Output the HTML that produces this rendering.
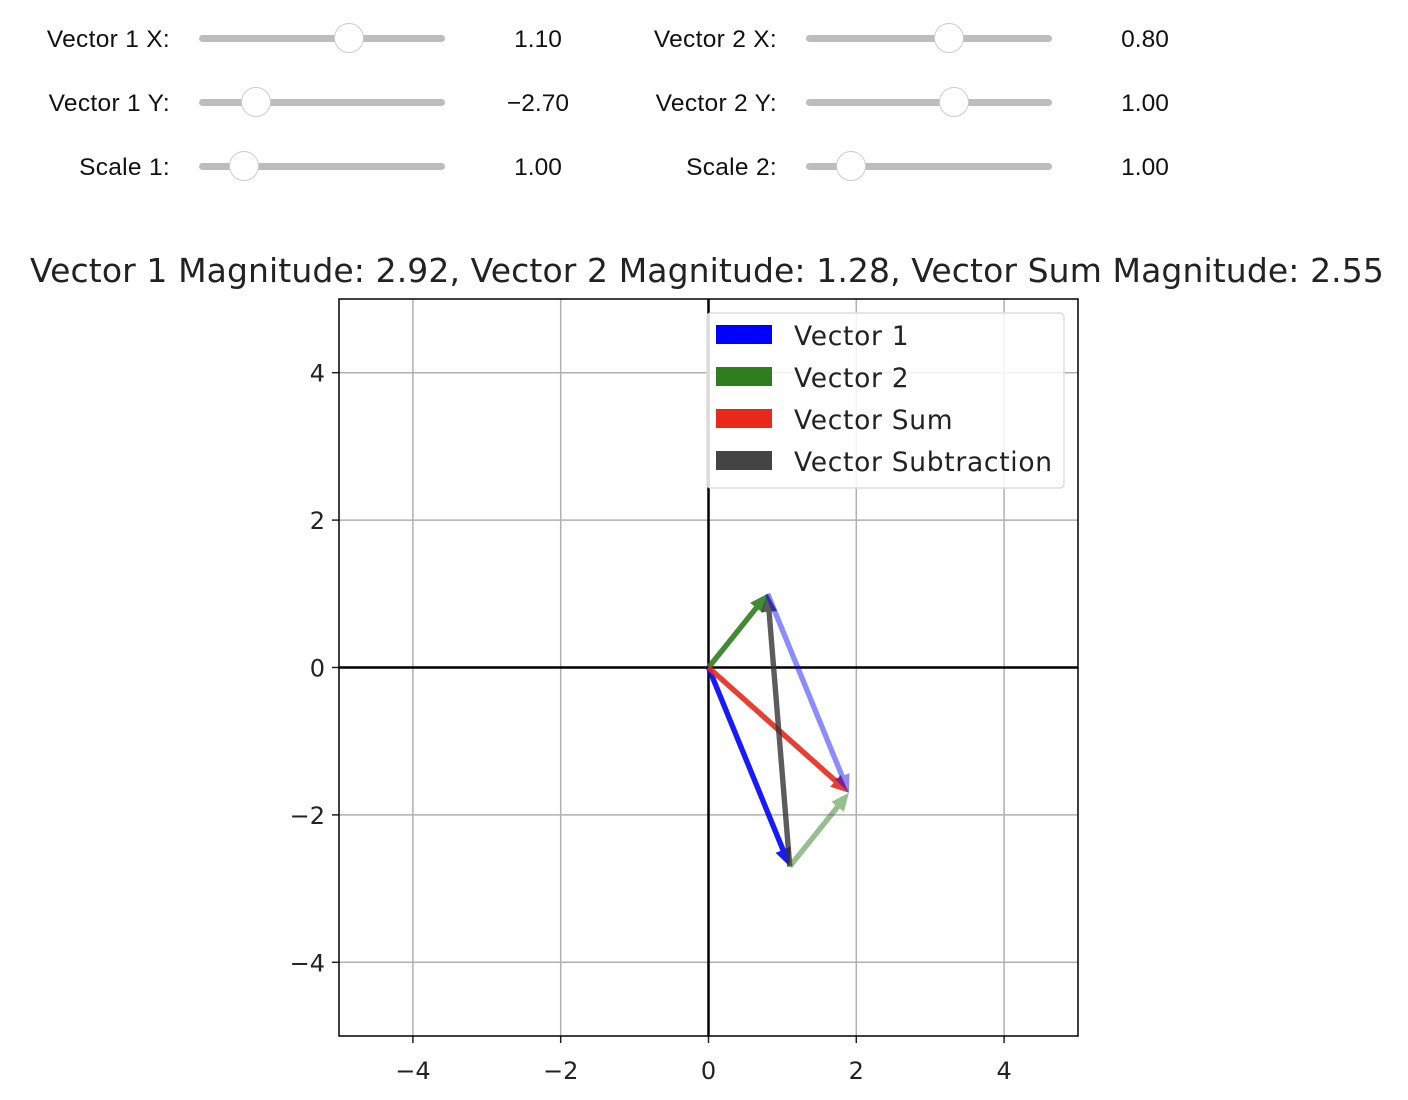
<!DOCTYPE html>
<html><head><meta charset="utf-8"><style>
body{margin:0;width:1408px;height:1100px;background:#fff;font-family:"Liberation Sans","DejaVu Sans",sans-serif;overflow:hidden;position:relative}
.lbl{position:absolute;font-size:24.5px;color:#111;text-align:right;width:170px;letter-spacing:0.3px}
.val{position:absolute;font-size:24.5px;color:#111;width:120px;text-align:center}
.track{position:absolute;height:7px;background:#bdbdbd;border-radius:4px;width:246px}
.knob{position:absolute;width:30px;height:30px;border-radius:50%;background:#fff;border:1px solid #ccc;box-sizing:border-box}
</style></head><body>
<div id="widgets"></div>
<svg id="chart" width="1408" height="1100" style="position:absolute;left:0;top:0;pointer-events:none" font-family="DejaVu Sans, Liberation Sans, sans-serif"></svg>
<script>
const sliderLabels=["Vector 1 X:","Vector 1 Y:","Scale 1:","Vector 2 X:","Vector 2 Y:","Scale 2:"];
const sliderValues=[1.10,-2.70,1.00,0.80,1.00,1.00];
const sliderMins=[-5,-5,0.1,-5,-5,0.1];
const sliderMaxs=[5,5,5,5,5,5];
const w=document.getElementById('widgets');
for(let i=0;i<6;i++){
  const col=i<3?0:1,row=i%3;
  const ox=col?607:0,y=38+row*64;
  const l=document.createElement('div');l.className='lbl';l.style.left=(ox)+'px';l.style.top=(y-12)+'px';l.textContent=sliderLabels[i];
  
  
  w.appendChild(l);
  const t=document.createElement('div');t.className='track';t.style.left=(ox+199)+'px';t.style.top=(y-3)+'px';
  
  
  w.appendChild(t);
  const f=(sliderValues[i]-sliderMins[i])/(sliderMaxs[i]-sliderMins[i]);
  const k=document.createElement('div');k.className='knob';k.style.left=(ox+199+f*246-15)+'px';k.style.top=(y-15)+'px';
  
  
  w.appendChild(k);
  const v=document.createElement('div');v.className='val';v.style.left=(ox+478)+'px';v.style.top=(y-12)+'px';
  v.textContent=sliderValues[i].toFixed(2).replace('-','\u2212');
  
  
  w.appendChild(v);
}
const v1=[sliderValues[0]*sliderValues[2],sliderValues[1]*sliderValues[2]];
const v2=[sliderValues[3]*sliderValues[5],sliderValues[4]*sliderValues[5]];
const xTicks=[-4,-2,0,2,4];
const yTicks=[-4,-2,0,2,4];
const legendLabels=["Vector 1","Vector 2","Vector Sum","Vector Subtraction"];
const legendColors=["#0000ff","#2e7d1e","#e8291c","#444"];
const L=339,R=1078,T=299,B=1036;
const X=x=>L+(x+5)/10*(R-L), Y=y=>B-(y+5)/10*(B-T);
const svg=document.getElementById('chart');const NS='http://www.w3.org/2000/svg';
function el(tag,a,p){const e=document.createElementNS(NS,tag);for(const k in a)e.setAttribute(k,a[k]);(p||svg).appendChild(e);return e;}
const mag=v=>Math.hypot(v[0],v[1]);
const sum=[v1[0]+v2[0],v1[1]+v2[1]];
const title=el('text',{x:707,y:282,'text-anchor':'middle','font-size':'33','letter-spacing':'0.1',fill:'#222'});
title.textContent=`Vector 1 Magnitude: ${mag(v1).toFixed(2)}, Vector 2 Magnitude: ${mag(v2).toFixed(2)}, Vector Sum Magnitude: ${mag(sum).toFixed(2)}`;


for(const t of xTicks){
  const g=el('line',{x1:X(t),x2:X(t),y1:T,y2:B,stroke:'#b0b0b0','stroke-width':1.5});
  
  
  el('line',{x1:X(t),x2:X(t),y1:B,y2:B+7,stroke:'#222','stroke-width':1.5});
  const tx=el('text',{x:X(t),y:B+43,'text-anchor':'middle','font-size':'24',fill:'#222'});tx.textContent=String(t).replace('-','\u2212');
  
  
}
for(const t of yTicks){
  const g=el('line',{x1:L,x2:R,y1:Y(t),y2:Y(t),stroke:'#b0b0b0','stroke-width':1.5});
  
  
  el('line',{x1:L-7,x2:L,y1:Y(t),y2:Y(t),stroke:'#222','stroke-width':1.5});
  const tx=el('text',{x:L-14,y:Y(t)+9,'text-anchor':'end','font-size':'24',fill:'#222'});tx.textContent=String(t).replace('-','\u2212');
  
  
}
el('line',{x1:L,x2:R,y1:Y(0),y2:Y(0),stroke:'#000','stroke-width':2.5});
el('line',{x1:X(0),x2:X(0),y1:T,y2:B,stroke:'#000','stroke-width':2.5});
function arrow(a,b,color,op,name){
  const x1=X(a[0]),y1=Y(a[1]),x2=X(b[0]),y2=Y(b[1]);
  const dx=x2-x1,dy=y2-y1,len=Math.hypot(dx,dy),ux=dx/len,uy=dy/len,px=-uy,py=ux;
  const hl=18,hw=8,sw=2.7;
  const bx=x2-ux*hl,by=y2-uy*hl;
  const pts=[[x1+px*sw,y1+py*sw],[bx+px*sw,by+py*sw],[bx+px*hw,by+py*hw],[x2,y2],[bx-px*hw,by-py*hw],[bx-px*sw,by-py*sw],[x1-px*sw,y1-py*sw]];
  const p=el('polygon',{points:pts.map(q=>q.join(',')).join(' '),fill:color,'fill-opacity':op});
  
  
}
arrow([0,0],v1,'#0000ff',0.9,'vector-1-arrow');
arrow([0,0],v2,'#2e7d1e',0.9,'vector-2-arrow');
arrow([0,0],sum,'#e8291c',0.9,'vector-sum-arrow');
arrow(v1,v2,'#333',0.8,'vector-subtraction-arrow');
arrow(v2,sum,'#0000ff',0.45,'vector-1-shifted-arrow');
arrow(v1,sum,'#2e7d1e',0.5,'vector-2-shifted-arrow');
el('rect',{x:L,y:T,width:R-L,height:B-T,fill:'none',stroke:'#000','stroke-width':1.5});
const lg=el('rect',{x:707,y:313,width:357,height:175,rx:4,fill:'#fff','fill-opacity':0.85,stroke:'#ddd','stroke-width':1.5});


legendLabels.forEach((s,i)=>{
  const y=334+i*42;
  el('rect',{x:716,y:y-9,width:56,height:19,fill:legendColors[i]});
  const t=el('text',{x:794,y:y+11,'font-size':'26.5','letter-spacing':'0.7',fill:'#222'});t.textContent=s;
  
  
});
</script>
</body></html>
